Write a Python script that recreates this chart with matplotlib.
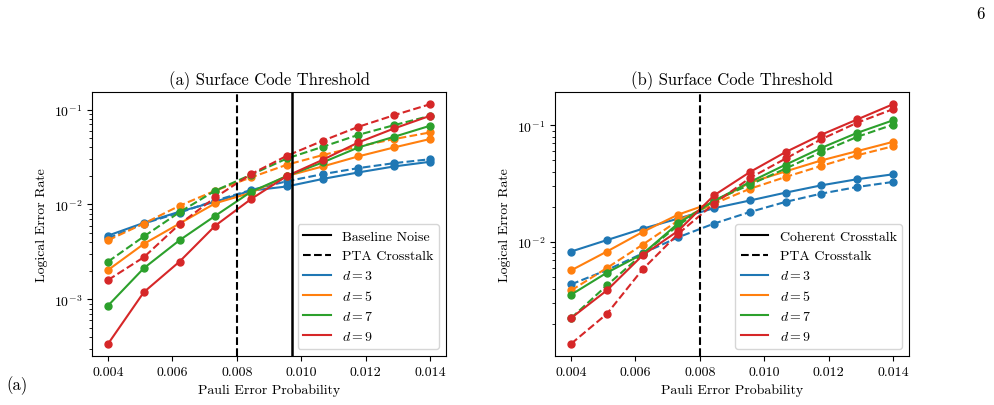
import matplotlib
matplotlib.use("Agg")
import matplotlib.pyplot as plt
from matplotlib.lines import Line2D

plt.rcParams['font.family'] = 'serif'
plt.rcParams['font.serif'] = ['cmr10']
plt.rcParams['mathtext.fontset'] = 'cm'
plt.rcParams['axes.formatter.use_mathtext'] = True
plt.rcParams['font.size'] = 10

p = [0.004, 0.00511, 0.00622, 0.00733, 0.00844, 0.00956, 0.01067, 0.01178, 0.01289, 0.014]
distances = [3, 5, 7, 9]
colors = ['#1f77b4', '#ff7f0e', '#2ca02c', '#d62728']

# (a) baseline noise (solid) and PTA crosstalk (dashed)
a_base_d3 = [4.7e-3, 6.4e-3, 8.4e-3, 1.07e-2, 1.40e-2, 1.55e-2, 1.86e-2, 2.18e-2, 2.52e-2, 2.82e-2]
a_base_d5 = [2.04e-3, 3.84e-3, 6.3e-3, 1.03e-2, 1.33e-2, 2.0e-2, 2.52e-2, 3.22e-2, 4.0e-2, 4.9e-2]
a_base_d7 = [8.6e-4, 2.13e-3, 4.2e-3, 7.6e-3, 1.36e-2, 2.0e-2, 2.78e-2, 4.0e-2, 5.18e-2, 6.76e-2]
a_base_d9 = [3.4e-4, 1.19e-3, 2.5e-3, 5.98e-3, 1.14e-2, 2.0e-2, 2.96e-2, 4.52e-2, 6.34e-2, 8.6e-2]
a_pta_d3 = [4.4e-3, 6.3e-3, 8.2e-3, 1.1e-2, 1.42e-2, 1.76e-2, 2.09e-2, 2.42e-2, 2.73e-2, 3.0e-2]
a_pta_d5 = [4.2e-3, 6.3e-3, 9.7e-3, 1.40e-2, 1.93e-2, 2.63e-2, 3.32e-2, 4.1e-2, 4.9e-2, 5.75e-2]
a_pta_d7 = [2.5e-3, 4.6e-3, 8.3e-3, 1.40e-2, 2.06e-2, 3.06e-2, 4.06e-2, 5.43e-2, 6.87e-2, 8.6e-2]
a_pta_d9 = [1.6e-3, 2.78e-3, 6.2e-3, 1.19e-2, 2.09e-2, 3.27e-2, 4.7e-2, 6.6e-2, 8.75e-2, 0.114]

# (b) coherent crosstalk (solid) and PTA crosstalk (dashed)
b_coh_d3 = [8.3e-3, 1.04e-2, 1.30e-2, 1.59e-2, 1.95e-2, 2.27e-2, 2.65e-2, 3.06e-2, 3.45e-2, 3.8e-2]
b_coh_d5 = [5.73e-3, 8.3e-3, 1.22e-2, 1.72e-2, 2.2e-2, 3.23e-2, 4.03e-2, 5.0e-2, 6.0e-2, 7.2e-2]
b_coh_d7 = [3.55e-3, 5.47e-3, 7.9e-3, 1.45e-2, 2.25e-2, 3.27e-2, 4.6e-2, 6.4e-2, 8.6e-2, 0.110]
b_coh_d9 = [2.24e-3, 3.86e-3, 7.7e-3, 1.25e-2, 2.51e-2, 3.98e-2, 5.9e-2, 8.3e-2, 0.112, 0.151]
b_pta_d3 = [4.35e-3, 5.76e-3, 8.0e-3, 1.10e-2, 1.44e-2, 1.81e-2, 2.21e-2, 2.60e-2, 2.96e-2, 3.27e-2]
b_pta_d5 = [3.86e-3, 6.0e-3, 9.5e-3, 1.53e-2, 2.13e-2, 2.86e-2, 3.61e-2, 4.49e-2, 5.53e-2, 6.6e-2]
b_pta_d7 = [2.24e-3, 4.26e-3, 7.9e-3, 1.39e-2, 2.27e-2, 3.1e-2, 4.26e-2, 5.9e-2, 7.95e-2, 0.101]
b_pta_d9 = [1.35e-3, 2.43e-3, 5.84e-3, 1.18e-2, 2.13e-2, 3.54e-2, 5.19e-2, 7.6e-2, 0.105, 0.137]

a_threshold_base = 0.0097
a_threshold_pta = 0.008
b_threshold_pta = 0.008

fig = plt.figure(figsize=(9.94, 4.06), dpi=100)
ax1 = fig.add_axes([0.0926, 0.1214, 0.3561, 0.6488])
ax2 = fig.add_axes([0.5584, 0.1214, 0.3561, 0.6488])


def draw(ax, solid, dashed, title, solid_label, vlines):
    for d, c, ys, yd in zip(distances, colors, solid, dashed):
        ax.plot(p, ys, '-o', color=c, lw=1.5, ms=5)
        ax.plot(p, yd, '--o', color=c, lw=1.5, ms=5)
    for x, ls, lw in vlines:
        ax.axvline(x, color='black', ls=ls, lw=lw)
    ax.set_yscale('log')
    ax.set_title(title, fontsize=12)
    ax.set_xlabel('Pauli Error Probability')
    ax.set_ylabel('Logical Error Rate')
    ax.set_xticks([0.004, 0.006, 0.008, 0.010, 0.012, 0.014])
    ax.set_xticklabels(['0.004', '0.006', '0.008', '0.010', '0.012', '0.014'])
    handles = [Line2D([], [], color='black', ls='-', lw=1.5, label=solid_label),
               Line2D([], [], color='black', ls='--', lw=1.5, label='PTA Crosstalk')]
    for d, c in zip(distances, colors):
        handles.append(Line2D([], [], color=c, lw=1.5, label=f'$d = {d}$'))
    ax.legend(handles=handles, loc='lower right', fontsize=10)


draw(ax1, [a_base_d3, a_base_d5, a_base_d7, a_base_d9],
     [a_pta_d3, a_pta_d5, a_pta_d7, a_pta_d9],
     '(a) Surface Code Threshold', 'Baseline Noise',
     [(a_threshold_pta, '--', 1.5), (a_threshold_base, '-', 1.8)])
draw(ax2, [b_coh_d3, b_coh_d5, b_coh_d7, b_coh_d9],
     [b_pta_d3, b_pta_d5, b_pta_d7, b_pta_d9],
     '(b) Surface Code Threshold', 'Coherent Crosstalk',
     [(b_threshold_pta, '--', 1.5)])

fig.text(0.991, 0.965, '6', ha='right', va='center', fontsize=12)
fig.text(0.006, 0.05, '(a)', ha='left', va='center', fontsize=12)

fig.savefig('out.png', dpi=100)
